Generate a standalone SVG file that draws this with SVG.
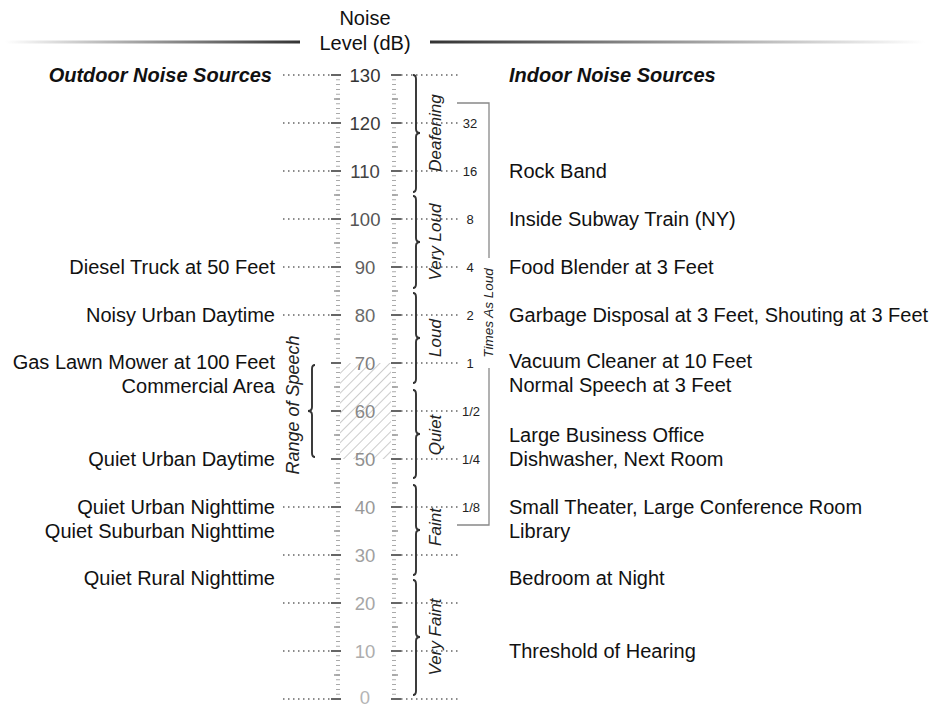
<svg xmlns="http://www.w3.org/2000/svg" width="931" height="707" viewBox="0 0 931 707">
<style>
text{font-family:"Liberation Sans",Arial,sans-serif}
.lbl{font-size:20px;fill:#111}
.lt{text-anchor:end}
.hd{font-size:20px;font-weight:bold;font-style:italic;fill:#111}
.num{font-size:18.5px;text-anchor:middle}
.sm{font-size:13px;text-anchor:middle;fill:#222}
.cat{font-size:17px;font-style:italic;text-anchor:middle;fill:#222}
.dot{stroke:#666;stroke-width:1.5;stroke-dasharray:1.5 3.5;fill:none}
.brace{stroke:#333;stroke-width:1.9;fill:none}
.minor{stroke:#aaa;stroke-width:4;stroke-dasharray:1 3.8;fill:none}
.maj{stroke:#666;stroke-width:2}
.mid{stroke:#999;stroke-width:1.5}
</style>
<defs>
<linearGradient id="gl" x1="5" y1="0" x2="300" y2="0" gradientUnits="userSpaceOnUse">
<stop offset="0" stop-color="#fff"/><stop offset="1" stop-color="#333"/>
</linearGradient>
<linearGradient id="gr" x1="430" y1="0" x2="925" y2="0" gradientUnits="userSpaceOnUse">
<stop offset="0" stop-color="#333"/><stop offset="1" stop-color="#fff"/>
</linearGradient>
<pattern id="hatch" patternUnits="userSpaceOnUse" width="7" height="7" patternTransform="rotate(45)">
<line x1="0" y1="0" x2="0" y2="7" stroke="#aaa" stroke-width="1.2"/>
</pattern>
</defs>
<rect width="931" height="707" fill="#fff"/>

<g id="header">
<line x1="5" y1="42" x2="300" y2="42" stroke="url(#gl)" stroke-width="3"/>
<line x1="430" y1="42" x2="925" y2="42" stroke="url(#gr)" stroke-width="3"/>
<text x="365" y="25" class="lbl" text-anchor="middle">Noise</text>
<text x="365" y="50" class="lbl" text-anchor="middle">Level (dB)</text>
</g>

<g id="headings">
<text x="272" y="82" class="hd" text-anchor="end">Outdoor Noise Sources</text>
<text x="509" y="82" class="hd">Indoor Noise Sources</text>
</g>

<g id="connectors">
<g id="left-dots">
<line class="dot" x1="283" y1="75" x2="331" y2="75"/>
<line class="dot" x1="283" y1="123" x2="331" y2="123"/>
<line class="dot" x1="283" y1="171" x2="331" y2="171"/>
<line class="dot" x1="283" y1="219" x2="331" y2="219"/>
<line class="dot" x1="283" y1="267" x2="331" y2="267"/>
<line class="dot" x1="283" y1="315" x2="331" y2="315"/>
<line class="dot" x1="283" y1="507" x2="331" y2="507"/>
<line class="dot" x1="283" y1="555" x2="331" y2="555"/>
<line class="dot" x1="283" y1="603" x2="331" y2="603"/>
<line class="dot" x1="283" y1="651" x2="331" y2="651"/>
<line class="dot" x1="283" y1="699" x2="331" y2="699"/>
</g>
<g id="right-dots">
<line class="dot" x1="401" y1="75" x2="460" y2="75"/>
<line class="dot" x1="401" y1="123" x2="461" y2="123"/>
<line class="dot" x1="401" y1="171" x2="461" y2="171"/>
<line class="dot" x1="401" y1="219" x2="461" y2="219"/>
<line class="dot" x1="401" y1="267" x2="461" y2="267"/>
<line class="dot" x1="401" y1="315" x2="461" y2="315"/>
<line class="dot" x1="401" y1="363" x2="461" y2="363"/>
<line class="dot" x1="401" y1="411" x2="461" y2="411"/>
<line class="dot" x1="401" y1="459" x2="461" y2="459"/>
<line class="dot" x1="401" y1="507" x2="461" y2="507"/>
<line class="dot" x1="401" y1="555" x2="460" y2="555"/>
<line class="dot" x1="401" y1="603" x2="460" y2="603"/>
<line class="dot" x1="401" y1="651" x2="460" y2="651"/>
<line class="dot" x1="401" y1="699" x2="460" y2="699"/>
</g>
<path id="times-bracket" d="M457 103 H489 V258 M489 368 V525 H457" stroke="#888" stroke-width="1.3" fill="none"/>
</g>

<g id="scale">
<rect x="340" y="363" width="51" height="96" fill="url(#hatch)"/>
<line class="minor" x1="338" y1="74.5" x2="338" y2="699.5"/>
<line class="minor" x1="394" y1="74.5" x2="394" y2="699.5"/>
<g id="mid-ticks">
<path class="mid" d="M334 99H340M334 147H340M334 195H340M334 243H340M334 291H340M334 339H340M334 387H340M334 435H340M334 483H340M334 531H340M334 579H340M334 627H340M334 675H340"/>
<path class="mid" d="M392 99H398M392 147H398M392 195H398M392 243H398M392 291H398M392 339H398M392 387H398M392 435H398M392 483H398M392 531H398M392 579H398M392 627H398M392 675H398"/>
</g>
<g id="major-ticks">
<path class="maj" d="M331 75H341M331 123H341M331 171H341M331 219H341M331 267H341M331 315H341M331 363H341M331 411H341M331 459H341M331 507H341M331 555H341M331 603H341M331 651H341M331 699H341"/>
<path class="maj" d="M391 75H401M391 123H401M391 171H401M391 219H401M391 267H401M391 315H401M391 363H401M391 411H401M391 459H401M391 507H401M391 555H401M391 603H401M391 651H401M391 699H401"/>
</g>
<g id="scale-numbers">
<text class="num" x="365" y="81.5" fill="#333">130</text>
<text class="num" x="365" y="129.5" fill="#3a3a3a">120</text>
<text class="num" x="365" y="177.5" fill="#444">110</text>
<text class="num" x="365" y="225.5" fill="#555">100</text>
<text class="num" x="365" y="273.5" fill="#5f5f5f">90</text>
<text class="num" x="365" y="321.5" fill="#6a6a6a">80</text>
<text class="num" x="365" y="369.5" fill="#7f7f7f">70</text>
<text class="num" x="365" y="417.5" fill="#888">60</text>
<text class="num" x="365" y="465.5" fill="#8f8f8f">50</text>
<text class="num" x="365" y="513.5" fill="#999">40</text>
<text class="num" x="365" y="561.5" fill="#a0a0a0">30</text>
<text class="num" x="365" y="609.5" fill="#a6a6a6">20</text>
<text class="num" x="365" y="657.5" fill="#adadad">10</text>
<text class="num" x="365" y="704" fill="#b5b5b5">0</text>
</g>
</g>

<g id="times-as-loud">
<text class="sm" x="470" y="127.5">32</text>
<text class="sm" x="470" y="175.5">16</text>
<text class="sm" x="470" y="223.5">8</text>
<text class="sm" x="470" y="271.5">4</text>
<text class="sm" x="470" y="319.5">2</text>
<text class="sm" x="470" y="367.5">1</text>
<text class="sm" x="471" y="415.5">1/2</text>
<text class="sm" x="471" y="463.5">1/4</text>
<text class="sm" x="471" y="511.5">1/8</text>
<text transform="translate(493,313) rotate(-90)" style="font-size:13.5px;font-style:italic;text-anchor:middle;fill:#222">Times As Loud</text>
</g>

<g id="cat-deafening">
<path class="brace" d="M413 75Q416 75 416 79V129Q416 133 420 133Q416 133 416 137V188Q416 192 413 192"/>
<text class="cat" transform="translate(441,133) rotate(-90)">Deafening</text>
</g>
<g id="cat-very-loud">
<path class="brace" d="M413 196Q416 196 416 200V238Q416 242 420 242Q416 242 416 246V284Q416 288 413 288"/>
<text class="cat" transform="translate(441,242) rotate(-90)">Very Loud</text>
</g>
<g id="cat-loud">
<path class="brace" d="M413 293Q416 293 416 297V334Q416 338 420 338Q416 338 416 342V379Q416 383 413 383"/>
<text class="cat" transform="translate(441,338) rotate(-90)">Loud</text>
</g>
<g id="cat-quiet">
<path class="brace" d="M413 390Q416 390 416 394V430Q416 434 420 434Q416 434 416 438V474Q416 478 413 478"/>
<text class="cat" transform="translate(441,435) rotate(-90)">Quiet</text>
</g>
<g id="cat-faint">
<path class="brace" d="M413 485Q416 485 416 489V526Q416 530 420 530Q416 530 416 534V571Q416 575 413 575"/>
<text class="cat" transform="translate(441,527) rotate(-90)">Faint</text>
</g>
<g id="cat-very-faint">
<path class="brace" d="M413 580Q416 580 416 584V633Q416 637 420 637Q416 637 416 641V691Q416 695 413 695"/>
<text class="cat" transform="translate(441,637) rotate(-90)">Very Faint</text>
</g>

<g id="range-of-speech">
<path class="brace" d="M315 365Q312 365 312 369V407Q312 411 308 411Q312 411 312 415V453Q312 457 315 457"/>
<text transform="translate(299,405) rotate(-90)" style="font-size:18px;font-style:italic;text-anchor:middle;fill:#222">Range of Speech</text>
</g>

<g id="outdoor">
<text class="lbl lt" x="275" y="274">Diesel Truck at 50 Feet</text>
<text class="lbl lt" x="275" y="322">Noisy Urban Daytime</text>
<text class="lbl lt" x="275" y="369">Gas Lawn Mower at 100 Feet</text>
<text class="lbl lt" x="275" y="393">Commercial Area</text>
<text class="lbl lt" x="275" y="466">Quiet Urban Daytime</text>
<text class="lbl lt" x="275" y="514">Quiet Urban Nighttime</text>
<text class="lbl lt" x="275" y="538">Quiet Suburban Nighttime</text>
<text class="lbl lt" x="275" y="585">Quiet Rural Nighttime</text>
</g>

<g id="indoor">
<text class="lbl" x="509" y="178">Rock Band</text>
<text class="lbl" x="509" y="226">Inside Subway Train (NY)</text>
<text class="lbl" x="509" y="274">Food Blender at 3 Feet</text>
<text class="lbl" x="509" y="322">Garbage Disposal at 3 Feet, Shouting at 3 Feet</text>
<text class="lbl" x="509" y="368">Vacuum Cleaner at 10 Feet</text>
<text class="lbl" x="509" y="392">Normal Speech at 3 Feet</text>
<text class="lbl" x="509" y="442">Large Business Office</text>
<text class="lbl" x="509" y="466">Dishwasher, Next Room</text>
<text class="lbl" x="509" y="514">Small Theater, Large Conference Room</text>
<text class="lbl" x="509" y="538">Library</text>
<text class="lbl" x="509" y="585">Bedroom at Night</text>
<text class="lbl" x="509" y="658">Threshold of Hearing</text>
</g>
</svg>
